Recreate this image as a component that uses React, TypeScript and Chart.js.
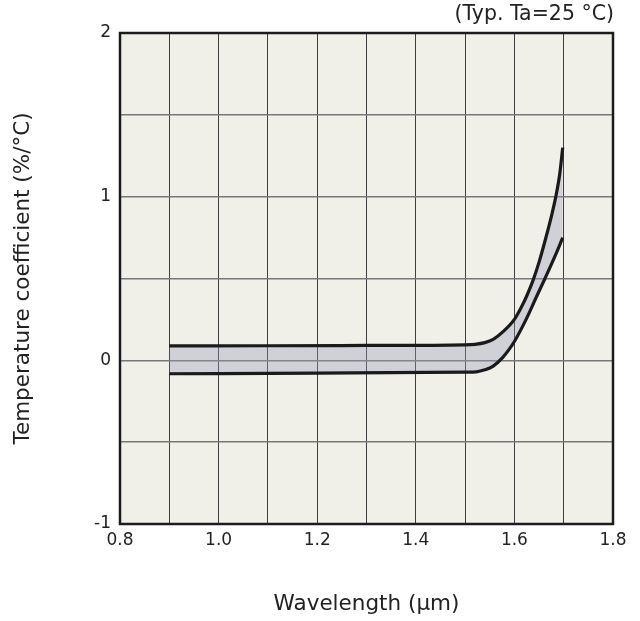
import { useEffect, useRef } from "react";
import { Chart, registerables } from "chart.js";

Chart.register(...registerables);

// Upper boundary of the typical band
const upperWavelength = [0.9, 1.1, 1.3, 1.5, 1.52, 1.54, 1.557, 1.577, 1.6, 1.615, 1.6245, 1.638, 1.65, 1.663, 1.675, 1.684, 1.692, 1.698];
const upperCoefficient = [0.088, 0.089, 0.091, 0.095, 0.098, 0.108, 0.128, 0.175, 0.25, 0.33, 0.39, 0.49, 0.6, 0.74, 0.88, 1.0, 1.14, 1.3];

// Lower boundary of the typical band
const lowerWavelength = [0.9, 1.2, 1.5, 1.523, 1.54, 1.557, 1.577, 1.59, 1.6, 1.6245, 1.645, 1.662, 1.685, 1.698];
const lowerCoefficient = [-0.082, -0.078, -0.072, -0.07, -0.058, -0.035, 0.02, 0.07, 0.115, 0.255, 0.39, 0.5, 0.655, 0.75];

const xMin = 0.8;
const xMax = 1.8;
const yMin = -1;
const yMax = 2;
const xLabelValues = [0.8, 1.0, 1.2, 1.4, 1.6, 1.8];
const yLabelValues = [-1, 0, 1, 2];

const noteText = "(Typ. Ta=25 °C)";
const xTitle = "Wavelength (μm)";
const yTitle = "Temperature coefficient (%/°C)";

const FONT = "'DejaVu Sans', Verdana, sans-serif";

const framePlugin = {
  id: "frame",
  beforeDraw(chart: any) {
    const { ctx, chartArea } = chart;
    const { left, top, right, bottom } = chartArea;
    ctx.save();
    ctx.fillStyle = "#f1f0e8";
    ctx.fillRect(left, top, right - left, bottom - top);
    ctx.restore();
  },
  afterDraw(chart: any) {
    const { ctx, chartArea } = chart;
    const { left, top, right, bottom } = chartArea;
    ctx.save();
    ctx.strokeStyle = "#1c1c1c";
    ctx.lineWidth = 2.5;
    ctx.strokeRect(left, top, right - left, bottom - top);
    ctx.fillStyle = "#222";
    ctx.font = `20.5px ${FONT}`;
    ctx.textAlign = "right";
    ctx.textBaseline = "middle";
    ctx.fillText(noteText, right + 1, 15);
    ctx.restore();
  },
};

export default function App() {
  const canvasRef = useRef<HTMLCanvasElement | null>(null);

  useEffect(() => {
    if (!canvasRef.current) return;
    const upper = upperWavelength.map((x, i) => ({ x, y: upperCoefficient[i] }));
    const lower = lowerWavelength.map((x, i) => ({ x, y: lowerCoefficient[i] }));

    const chart = new Chart(canvasRef.current, {
      type: "line",
      data: {
        datasets: [
          {
            label: "upper",
            data: upper,
            borderColor: "#1a1a1a",
            borderWidth: 3.2,
            pointRadius: 0,
            cubicInterpolationMode: "monotone",
            fill: "+1",
            backgroundColor: "rgba(150,156,184,0.36)",
          },
          {
            label: "lower",
            data: lower,
            borderColor: "#1a1a1a",
            borderWidth: 3.2,
            pointRadius: 0,
            cubicInterpolationMode: "monotone",
            fill: false,
          },
        ],
      },
      plugins: [framePlugin],
      options: {
        responsive: false,
        animation: false,
        events: [],
        layout: { padding: { top: 33, right: 27, left: 0, bottom: 0 } },
        plugins: {
          legend: { display: false },
          tooltip: { enabled: false },
          title: { display: false },
          filler: { drawTime: "beforeDatasetsDraw" },
        },
        scales: {
          x: {
            type: "linear",
            min: xMin,
            max: xMax,
            afterFit(scale: any) {
              scale.height = 97;
            },
            grid: { color: "#3e3e3e", lineWidth: 1, drawTicks: false },
            border: { display: false },
            ticks: {
              stepSize: 0.1,
              padding: 6,
              color: "#222",
              font: { family: FONT, size: 17 },
              maxRotation: 0,
              autoSkip: false,
              callback(value: any) {
                const v = Number(value);
                const hit = xLabelValues.find((t) => Math.abs(t - v) < 1e-6);
                return hit !== undefined ? hit.toFixed(1) : "";
              },
            },
            title: {
              display: true,
              text: xTitle,
              color: "#222",
              font: { family: FONT, size: 21.5 },
              padding: { top: 0, bottom: 4 },
            },
          },
          y: {
            type: "linear",
            min: yMin,
            max: yMax,
            afterFit(scale: any) {
              scale.width = 120;
            },
            grid: { color: "#777", lineWidth: 1.5, drawTicks: false },
            border: { display: false },
            ticks: {
              stepSize: 0.5,
              padding: 9,
              color: "#222",
              font: { family: FONT, size: 17 },
              autoSkip: false,
              callback(value: any) {
                const v = Number(value);
                const hit = yLabelValues.find((t) => Math.abs(t - v) < 1e-6);
                return hit !== undefined ? String(hit) : "";
              },
            },
            title: {
              display: true,
              text: yTitle,
              color: "#222",
              font: { family: FONT, size: 21.5 },
              padding: { top: 11, bottom: 0 },
            },
          },
        },
      },
    } as any);

    return () => chart.destroy();
  }, []);

  return (
    <div style={{ position: "fixed", left: 0, top: 0, width: 640, height: 621, background: "#fff" }}>
      <canvas ref={canvasRef} width={640} height={621} />
    </div>
  );
}
